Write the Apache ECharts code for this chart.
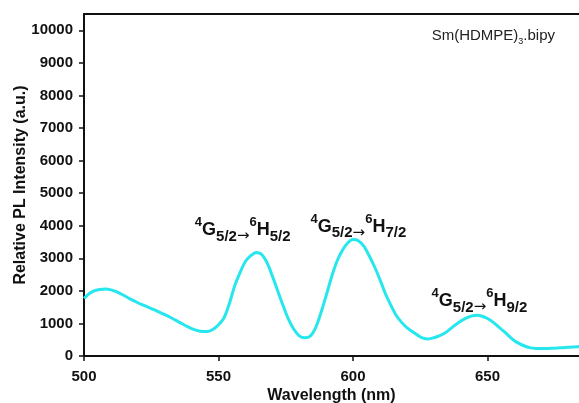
<!DOCTYPE html>
<html>
<head>
<meta charset="utf-8">
<script src="https://cdn.jsdelivr.net/npm/echarts@6/dist/echarts.min.js"></script>
<style>
    html, body { margin: 0; padding: 0; background: #fff; }
    #myChart { width: 579px; height: 403px; }
</style>
</head>
<body>
<div id="myChart"></div>
<script>
// emission spectrum (2 nm steps)
var wavelength = [500, 502, 504, 506, 508, 510, 512, 514, 516, 518, 520, 522, 524, 526, 528, 530,
    532, 534, 536, 538, 540, 542, 544, 546, 548, 550, 552, 554, 556, 558, 560, 562, 564, 566, 568,
    570, 572, 574, 576, 578, 580, 582, 584, 586, 588, 590, 592, 594, 596, 598, 600, 602, 604, 606,
    608, 610, 612, 614, 616, 618, 620, 622, 624, 626, 628, 630, 632, 634, 636, 638, 640, 642, 644,
    646, 648, 650, 652, 654, 656, 658, 660, 662, 664, 666, 668, 670, 672, 674, 676, 678, 680, 682,
    684, 686];
var intensity = [1770, 1920, 2010, 2045, 2055, 2030, 1975, 1895, 1805, 1715, 1635, 1565, 1495, 1425, 1350, 1270,
    1190, 1100, 1010, 920, 840, 785, 755, 755, 820, 960, 1165, 1600, 2150, 2560, 2900, 3080, 3180, 3120, 2870,
    2460, 2000, 1550, 1130, 820, 620, 560, 600, 850, 1310, 1850, 2420, 2900, 3240, 3470, 3575, 3540, 3370, 3080,
    2740, 2350, 1920, 1570, 1250, 1040, 870, 750, 640, 550, 525, 560, 620, 700, 820, 950, 1070, 1160, 1225,
    1250, 1220, 1150, 1040, 900, 760, 610, 470, 370, 300, 250, 232, 228, 230, 235, 245, 255, 268, 280,
    288, 295];

// transition labels (lower level, upper level) and where they sit
var transLower = ['5/2', '5/2', '5/2'];
var transUpper = ['5/2', '7/2', '9/2'];
var transX = [559, 602, 647];
var transY = [3870, 3970, 1690];

var sampleName = 'Sm(HDMPE)';
var sampleSub = '3';
var sampleTail = '.bipy';

function buildMarks() {
    var list = [];
    for (var i = 0; i < transX.length; i++) {
        list.push({
            coord: [transX[i], transY[i]],
            label: {
                formatter: '{sup|4}{main|G}{sub|' + transLower[i] + '}{arr|→}{sup|6}{main|H}{sub|' + transUpper[i] + '}'
            }
        });
    }
    return list;
}

var myChart = echarts.init(document.getElementById('myChart'));

var labelFont = { fontFamily: 'Liberation Sans', fontWeight: 'bold', fontSize: 15, color: '#111' };
var nameFont = { fontFamily: 'Liberation Sans', fontWeight: 'bold', fontSize: 16, color: '#111' };

var option = {
    animation: false,
    title: {
        text: '{a|' + sampleName + '}{s|' + sampleSub + '}{a|' + sampleTail + '}',
        right: 24,
        top: 26,
        padding: 0,
        textStyle: {
            fontWeight: 'normal',
            rich: {
                a: { fontFamily: 'Liberation Sans', fontWeight: 'normal', fontSize: 15, color: '#222', lineHeight: 20, verticalAlign: 'middle' },
                s: { fontFamily: 'Liberation Sans', fontWeight: 'normal', fontSize: 9, color: '#222', lineHeight: 10, verticalAlign: 'bottom' }
            }
        }
    },
    grid: { left: 84, right: 0, top: 14, bottom: 47, outerBoundsMode: 'none', containLabel: false },
    xAxis: [{
        type: 'value',
        min: 500,
        max: 684,
        interval: 50,
        name: 'Wavelength (nm)',
        nameLocation: 'middle',
        nameGap: 32,
        nameMoveOverlap: false,
        nameTextStyle: nameFont,
        axisLine: { lineStyle: { color: '#111', width: 2 } },
        axisTick: { length: 5, lineStyle: { color: '#111', width: 1.5 } },
        axisLabel: echarts.util.extend({ margin: 13, showMaxLabel: false, formatter: function (v) { return String(v); } }, labelFont),
        splitLine: { show: false }
    }, {
        // top frame line
        type: 'value',
        position: 'top',
        min: 500,
        max: 684,
        axisLine: { show: true, lineStyle: { color: '#111', width: 2 } },
        axisTick: { show: false },
        axisLabel: { show: false },
        splitLine: { show: false }
    }],
    yAxis: [{
        type: 'value',
        min: 0,
        max: 10500,
        interval: 1000,
        name: 'Relative PL Intensity (a.u.)',
        nameLocation: 'middle',
        nameGap: 55,
        nameMoveOverlap: false,
        nameTextStyle: nameFont,
        axisLine: { show: true, lineStyle: { color: '#111', width: 2 } },
        axisTick: { show: true, length: 5, lineStyle: { color: '#111', width: 1.5 } },
        axisLabel: echarts.util.extend({ margin: 11, showMaxLabel: false, formatter: function (v) { return String(v); } }, labelFont),
        splitLine: { show: false }
    }],
    series: [{
        type: 'line',
        data: wavelength.map(function (w, i) { return [w, intensity[i]]; }),
        smooth: 0.3,
        showSymbol: false,
        lineStyle: { color: '#26e6ee', width: 3 },
        markPoint: {
            symbol: 'circle',
            symbolSize: 1,
            itemStyle: { color: 'rgba(0,0,0,0)' },
            label: {
                show: true,
                position: 'inside',
                color: '#111',
                rich: {
                    main: { fontFamily: 'Liberation Sans', fontWeight: 'bold', fontSize: 18, color: '#111', lineHeight: 28, verticalAlign: 'middle' },
                    sup: { fontFamily: 'Liberation Sans', fontWeight: 'bold', fontSize: 13, color: '#111', lineHeight: 18, verticalAlign: 'top' },
                    sub: { fontFamily: 'Liberation Sans', fontWeight: 'bold', fontSize: 15, color: '#111', lineHeight: 14, verticalAlign: 'bottom' },
                    arr: { fontFamily: 'DejaVu Sans', fontSize: 15, color: '#111', lineHeight: 20, verticalAlign: 'bottom' }
                }
            },
            data: buildMarks()
        }
    }]
};

myChart.setOption(option);
</script>
</body>
</html>
